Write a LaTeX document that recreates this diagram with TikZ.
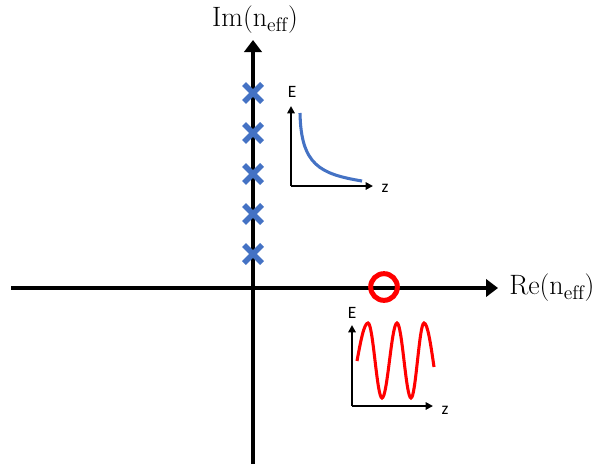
\documentclass[tikz,border=0pt]{standalone}
\usepackage{fontspec}
\setsansfont{Carlito}
\usetikzlibrary{arrows.meta, shapes.misc}

\definecolor{poleblue}{HTML}{4472C4}
\definecolor{modered}{HTML}{FF0000}

\tikzset{
    mainaxis/.style={line width=3.4pt, -{Triangle[length=9pt, width=13pt]}},
    insetaxis/.style={line width=1.5pt, -{Triangle[length=5.5pt, width=5.5pt]}},
    axislabel/.style={font=\fontsize{21}{23}\selectfont, inner sep=0pt},
    insetlabel/.style={font=\sffamily\fontsize{13}{15}\selectfont, inner sep=0pt},
    pole/.style={cross out, draw=poleblue, line width=4pt, minimum size=9.5pt, inner sep=0pt},
}

\begin{document}
\begin{tikzpicture}[x=0.75pt, y=-0.75pt]

    % Define variables/coordinates
    \def\Ox{253}
    \def\Oy{288}

    \useasboundingbox (0,0) rectangle (598,464);

    % Draw main axes
    \coordinate (reStart) at (11,\Oy);
    \coordinate (reEnd) at (498,\Oy);
    \coordinate (imStart) at (\Ox,464);
    \coordinate (imEnd) at (\Ox,40);
    \draw[mainaxis] (reStart) -- (reEnd);
    \draw[mainaxis] (imStart) -- (imEnd);
    \node[axislabel, anchor=west] (reLabel) at (509,\Oy) {$\mathrm{Re}(\mathrm{n}_{\mathrm{eff}})$};
    \node[axislabel] (imLabel) at (255,20) {$\mathrm{Im}(\mathrm{n}_{\mathrm{eff}})$};

    % Evanescent modes on the imaginary axis
    \foreach \y [count=\i] in {93,133,174,214,254}
        \node[pole] (pole\i) at (\Ox,\y) {};

    % Guided mode on the real axis
    \node[circle, draw=modered, line width=3.75pt, minimum size=20pt, inner sep=0pt] (guided) at (384,287) {};

    % Inset: decaying field
    \coordinate (decO) at (291,186);
    \coordinate (decE) at (291,106);
    \coordinate (decZ) at (373,186);
    \draw[insetaxis] (decO) -- (decE);
    \draw[insetaxis] (decO) -- (decZ);
    \node[insetlabel] (decELabel) at (292,92) {E};
    \node[insetlabel] (decZLabel) at (385,188) {z};
    \draw[poleblue, line width=2.3pt] (300,113) .. controls (301,165) and (320,174) .. (362,181);

    % Inset: oscillating field
    \coordinate (oscO) at (352,406);
    \coordinate (oscE) at (352,325);
    \coordinate (oscZ) at (433,406);
    \draw[insetaxis] (oscO) -- (oscE);
    \draw[insetaxis] (oscO) -- (oscZ);
    \node[insetlabel] (oscELabel) at (352,313) {E};
    \node[insetlabel] (oscZLabel) at (445,410) {z};
    \draw[modered, line width=2.3pt] (357,361) sin (368,323) cos (375,360.5) sin (382,398)
        cos (389.5,360.5) sin (397,323) cos (404,360.5) sin (411,398)
        cos (417.5,360.5) sin (424,323) cos (434,367);

\end{tikzpicture}
\end{document}
